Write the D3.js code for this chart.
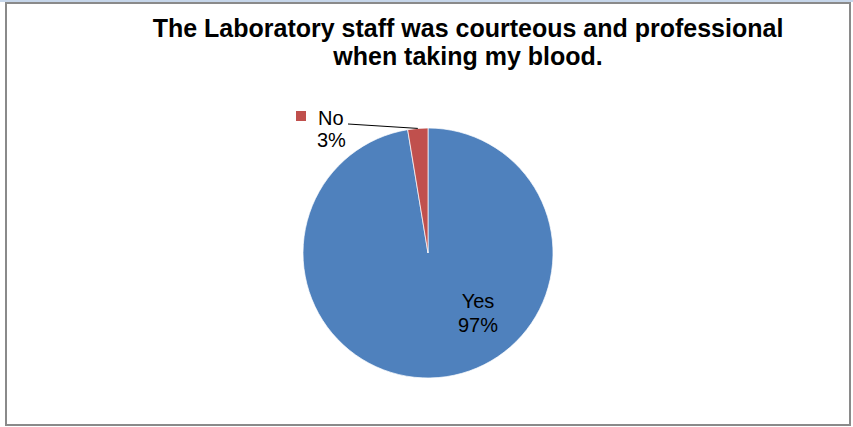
<!DOCTYPE html>
<html>
<head>
<meta charset="utf-8">
<script src="https://cdn.jsdelivr.net/npm/d3@7"></script>
<style>
  body { margin: 0; background: #fff; }
  svg { display: block; }
  text { font-family: "Liberation Sans", Arial, sans-serif; }
</style>
</head>
<body>
<div id="chart"></div>
<script>
(function() {
// data
let categories = ['Yes', 'No'];
let values = [97.4, 2.6];
let colors = ['#4f81bd', '#c0504d'];
let titleLines = ['The Laboratory staff was courteous and professional', 'when taking my blood.'];

let width = 853;
let height = 427;

let cx = 428, cy = 253, radius = 125;

let data = categories.map((c, i) => ({ category: c, value: values[i] }));
let total = d3.sum(values);

let svg = d3.select('#chart')
  .append('svg')
  .attr('width', width)
  .attr('height', height);

// light strip on top + chart border
svg.append('rect')
  .attr('x', 0).attr('y', 0)
  .attr('width', width).attr('height', 2)
  .attr('fill', '#c6d6ea');

svg.append('rect')
  .attr('x', 6).attr('y', 3)
  .attr('width', 844).attr('height', 422)
  .attr('fill', '#fff')
  .attr('stroke', '#8a8a8a')
  .attr('stroke-width', 2);

// title
svg.append('text')
  .attr('x', 468)
  .attr('y', 37)
  .attr('text-anchor', 'middle')
  .attr('font-size', '25px')
  .attr('font-weight', 'bold')
  .selectAll('tspan')
  .data(titleLines)
  .enter()
  .append('tspan')
  .attr('x', 468)
  .attr('dy', (d, i) => i === 0 ? 0 : 28)
  .text(d => d);

// pie
let pie = d3.pie()
  .sort(null)
  .value(d => d.value);

let arc = d3.arc()
  .innerRadius(0)
  .outerRadius(radius);

let g = svg.append('g')
  .attr('transform', 'translate(' + cx + ',' + cy + ')');

let arcs = pie(data);

g.selectAll('.arc')
  .data(arcs)
  .enter()
  .append('path')
  .attr('class', 'arc')
  .attr('d', arc)
  .attr('fill', (d, i) => colors[i])
  .attr('stroke', '#fff')
  .attr('stroke-width', 0.7);

let pct = v => Math.round(v / total * 100) + '%';

// Yes label inside the slice
let yes = arcs[0];
let yesLabel = g.append('text')
  .attr('text-anchor', 'middle')
  .attr('font-size', '20px')
  .attr('fill', '#000');
yesLabel.append('tspan')
  .attr('x', 50).attr('y', 55)
  .text(yes.data.category);
yesLabel.append('tspan')
  .attr('x', 50).attr('y', 79)
  .text(pct(yes.data.value));

// No label outside with leader line
let no = arcs[1];
let mid = (no.startAngle + no.endAngle) / 2;
let edge = [Math.sin(mid) * radius, -Math.cos(mid) * radius];

g.append('line')
  .attr('x1', -80).attr('y1', -129)
  .attr('x2', edge[0]).attr('y2', edge[1])
  .attr('stroke', '#000')
  .attr('stroke-width', 1);

g.append('rect')
  .attr('x', -132).attr('y', -142)
  .attr('width', 10).attr('height', 10)
  .attr('fill', colors[1]);

let noLabel = g.append('text')
  .attr('font-size', '20px')
  .attr('fill', '#000');
noLabel.append('tspan')
  .attr('x', -110).attr('y', -128)
  .text(no.data.category);
noLabel.append('tspan')
  .attr('x', -111).attr('y', -106)
  .text(pct(no.data.value));
})();
</script>
</body>
</html>
